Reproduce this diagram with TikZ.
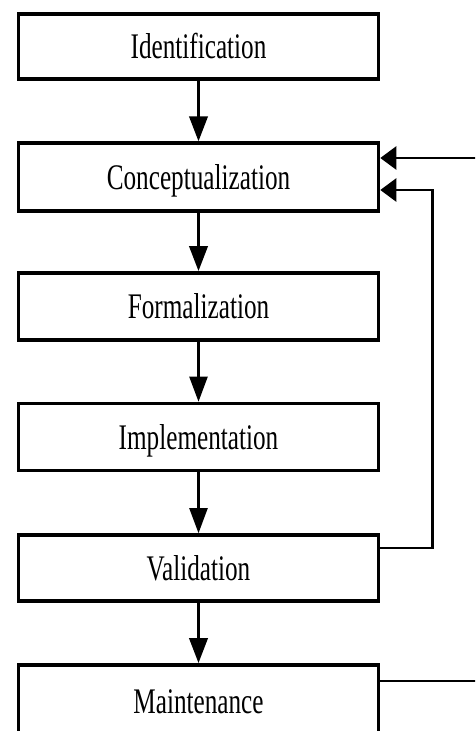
\documentclass[tikz,border=0pt]{standalone}
\usepackage{fontspec}
\setmainfont{Liberation Serif}
\usepackage{graphicx}
\usetikzlibrary{arrows.meta}
\newcommand{\stlbl}[1]{\scalebox{0.70}[1]{#1}}
\begin{document}
\begin{tikzpicture}[x=1pt,y=-1pt,
  stage/.style={draw=black, line width=3.6pt, fill=white, minimum width=360pt,
    inner sep=0pt, text height=24pt, text depth=0pt,
    font=\fontsize{36}{40}\selectfont},
  flowthick/.style={line width=3.6pt, -{Triangle[length=25pt,width=18pt]}},
  flowthin/.style={line width=2.3pt, -{Triangle[length=25pt,width=18pt]}},
  feedback/.style={line width=2.6pt, -{Triangle[length=16pt,width=23pt]}}]
\useasboundingbox (0,0) rectangle (475,731);
\clip (0,0) rectangle (475,731);
\fill[white] (0,0) rectangle (475,731);

\node[stage, minimum height=65pt]   (ident) at (198.5,46.5) {\stlbl{Identification}};
\node[stage, minimum height=67.5pt] (conc)  at (198.5,177)  {\stlbl{Conceptualization}};
\node[stage, minimum height=67pt]   (form)  at (198.5,306.5) {\stlbl{Formalization}};
\node[stage, minimum height=67pt]   (impl)  at (198.5,437)  {\stlbl{Implementation}};
\node[stage, minimum height=66pt]   (valid) at (198.5,568)  {\stlbl{Validation}};
\node[stage, minimum height=72pt]   (maint) at (198.5,701)  {\stlbl{Maintenance}};

\draw[flowthick] (ident) -- (conc);
\draw[flowthick] (conc) -- (form);
\draw[flowthin]  (form) -- (impl);
\draw[flowthin]  (impl) -- (valid);
\draw[flowthick] (valid) -- (maint);

\draw[feedback] ([yshift=20pt]valid.east) -- ++(52,0) |- ([yshift=-13pt]conc.east);
\draw[feedback] ([yshift=20pt]maint.east) -- ++(160,0) |- ([yshift=19pt]conc.east);
\end{tikzpicture}
\end{document}
